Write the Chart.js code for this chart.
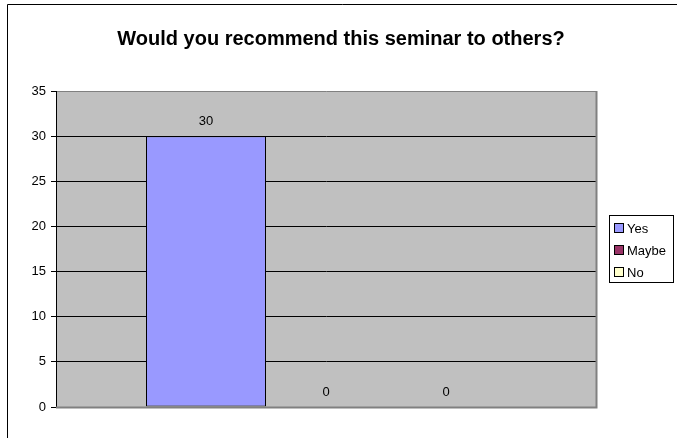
<!DOCTYPE html>
<html>
<head>
<meta charset="utf-8">
<script src="https://cdn.jsdelivr.net/npm/chart.js@4/dist/chart.umd.min.js"></script>
<style>
html,body{margin:0;padding:0;background:#fff;}
canvas{display:block;}
</style>
</head>
<body>
<canvas id="c" width="677" height="438"></canvas>
<script>
const chartTitle = "Would you recommend this seminar to others?";
const categories = [""];
const seriesNames = ["Yes", "Maybe", "No"];
const seriesValues = [[30], [0], [0]];
const seriesColors = ["#9999FF", "#993366", "#FFFFCC"];
const yTicks = [0, 5, 10, 15, 20, 25, 30, 35];

const FONT = "'Liberation Sans', Arial, sans-serif";

const decor = {
  id: 'decor',
  beforeDraw(chart) {
    const ctx = chart.ctx, a = chart.chartArea;
    ctx.save();
    ctx.fillStyle = '#fff';
    ctx.fillRect(0, 0, chart.width, chart.height);
    // outer border
    ctx.strokeStyle = '#000';
    ctx.lineWidth = 1;
    ctx.beginPath();
    ctx.moveTo(7.5, chart.height + 2);
    ctx.lineTo(7.5, 4.5);
    ctx.lineTo(chart.width + 2, 4.5);
    ctx.stroke();
    // plot area
    ctx.fillStyle = '#C0C0C0';
    ctx.fillRect(a.left, a.top, a.right - a.left, a.bottom - a.top);
    // title
    ctx.fillStyle = '#000';
    ctx.font = "bold 20px " + FONT;
    ctx.textAlign = 'center';
    ctx.textBaseline = 'middle';
    ctx.fillText(chartTitle, 341, 39);
    ctx.restore();
  },
  afterDraw(chart) {
    const ctx = chart.ctx, a = chart.chartArea;
    ctx.save();
    // right & bottom plot border gray
    ctx.strokeStyle = '#808080';
    ctx.lineWidth = 2;
    ctx.beginPath();
    ctx.moveTo(a.left, a.bottom + 0.5);
    ctx.lineTo(a.right + 0.5, a.bottom + 0.5);
    ctx.lineTo(a.right + 0.5, a.top);
    ctx.stroke();
    // data labels
    ctx.fillStyle = '#000';
    ctx.font = "13px " + FONT;
    ctx.textAlign = 'center';
    ctx.textBaseline = 'middle';
    chart.data.datasets.forEach((ds, i) => {
      const meta = chart.getDatasetMeta(i);
      meta.data.forEach((el, j) => {
        ctx.fillText(String(ds.data[j]), el.x, el.y - 15);
      });
    });
    // legend
    const lx = 609, ly = 215, lw = 64, lh = 67;
    ctx.fillStyle = '#fff';
    ctx.fillRect(lx, ly, lw, lh);
    ctx.strokeStyle = '#000';
    ctx.lineWidth = 1;
    ctx.strokeRect(lx + 0.5, ly + 0.5, lw, lh);
    ctx.textAlign = 'left';
    chart.data.datasets.forEach((ds, i) => {
      const cy = 228 + i * 22;
      const top = Math.round(cy - 4);
      ctx.fillStyle = ds.backgroundColor;
      ctx.fillRect(615, top, 8, 8);
      ctx.strokeStyle = '#000';
      ctx.strokeRect(614.5, top - 0.5, 9, 9);
      ctx.fillStyle = '#000';
      ctx.fillText(ds.label, 627, cy + 1);
    });
    ctx.restore();
  }
};

new Chart(document.getElementById('c'), {
  type: 'bar',
  data: {
    labels: categories,
    datasets: seriesNames.map((n, i) => ({
      label: n,
      data: seriesValues[i],
      backgroundColor: seriesColors[i],
      borderColor: '#000',
      borderWidth: 1,
      borderSkipped: false
    }))
  },
  options: {
    responsive: false,
    animation: false,
    devicePixelRatio: 1,
    layout: { padding: { left: 0, top: 91, right: 81, bottom: 31 } },
    categoryPercentage: 2 / 3,
    barPercentage: 1,
    plugins: { legend: { display: false }, title: { display: false }, tooltip: { enabled: false } },
    scales: {
      x: { display: false, offset: true, grid: { display: false } },
      y: {
        min: 0, max: 35,
        afterFit(s) { s.width = 56; },
        afterBuildTicks(s) { s.ticks = yTicks.map(v => ({ value: v })); },
        ticks: { color: '#000', font: { family: FONT, size: 13 }, padding: 5 },
        grid: {
          color: c => (c.tick && (c.tick.value === 0 || c.tick.value === 35)) ? '#808080' : '#000',
          tickColor: '#000',
          tickLength: 5,
          lineWidth: 1
        },
        border: { color: '#000', width: 1 }
      }
    }
  },
  plugins: [decor]
});
</script>
</body>
</html>
